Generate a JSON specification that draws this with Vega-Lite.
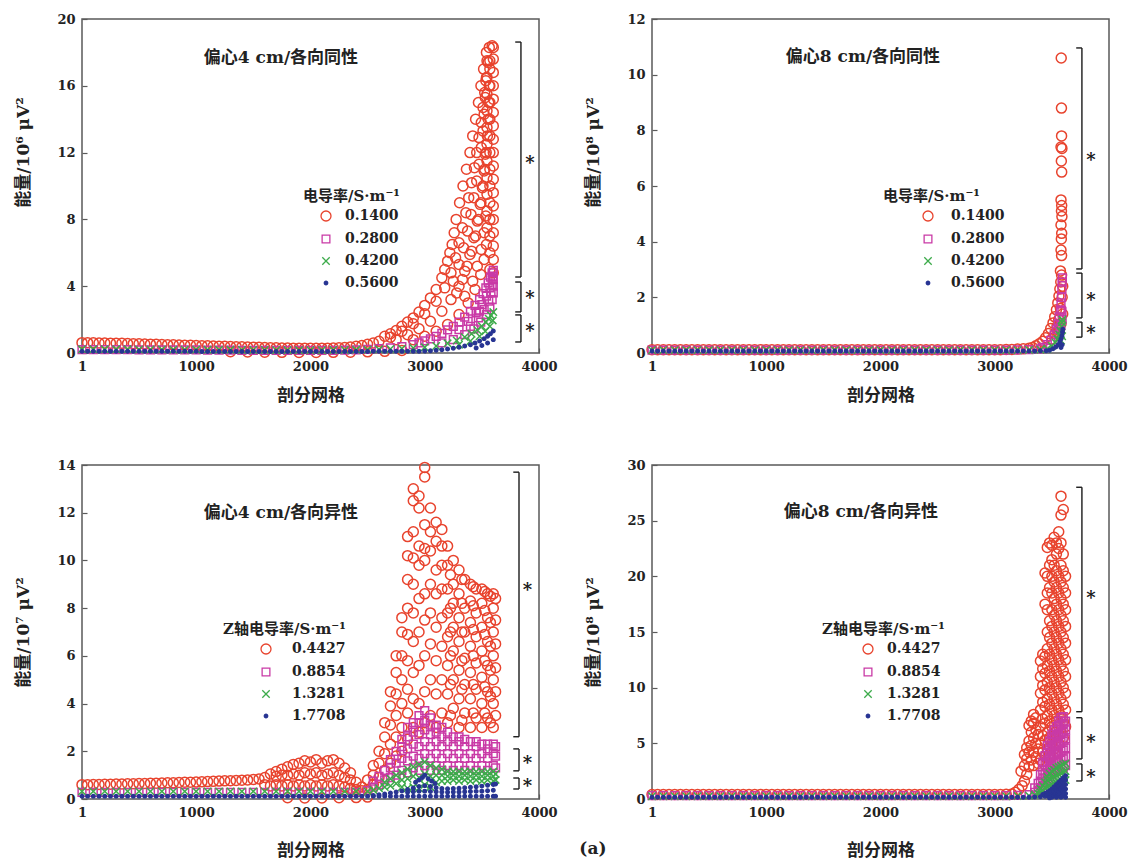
{
"$schema":"https://vega.github.io/schema/vega-lite/v6.json",
"padding":{"left":14,"top":12,"right":5,"bottom":5},
"background":"white",
"config":{
"view":{"stroke":"#5a5a5a","strokeWidth":1.5},
"axis":{"domain":false,"grid":false,"tickColor":"#5a5a5a","tickSize":-5,"tickWidth":1.2,"labelPadding":12,"labelFont":"DejaVu Serif","labelFontSize":13,"labelFontWeight":"bold","labelColor":"#222","labelFlush":false,"labelOverlap":false,"titleFont":"DejaVu Serif, Noto Sans CJK SC","titleFontSize":17,"titleFontWeight":"bold","titleColor":"#222"},
"legend":{"titleFont":"DejaVu Serif, Noto Sans CJK SC","titleFontSize":15,"titleFontWeight":"bold","titleColor":"#222","labelFont":"DejaVu Serif","labelFontSize":14,"labelFontWeight":"bold","labelColor":"#222","rowPadding":8,"titlePadding":5,"symbolStrokeWidth":1.3,"padding":0}
},
"datasets":{
"a":[
{"s":0,"x":1,"y":0.62},{"s":0,"x":50,"y":0.62},{"s":0,"x":100,"y":0.61},{"s":0,"x":150,"y":0.6},{"s":0,"x":200,"y":0.6},{"s":0,"x":250,"y":0.59},{"s":0,"x":300,"y":0.58},{"s":0,"x":350,"y":0.58},{"s":0,"x":400,"y":0.57},{"s":0,"x":450,"y":0.56},{"s":0,"x":500,"y":0.55},{"s":0,"x":550,"y":0.54},{"s":0,"x":600,"y":0.53},{"s":0,"x":650,"y":0.52},{"s":0,"x":700,"y":0.51},{"s":0,"x":750,"y":0.5},{"s":0,"x":800,"y":0.49},{"s":0,"x":850,"y":0.48},{"s":0,"x":900,"y":0.47},{"s":0,"x":950,"y":0.46},{"s":0,"x":1000,"y":0.45},{"s":0,"x":1050,"y":0.44},{"s":0,"x":1100,"y":0.43},{"s":0,"x":1150,"y":0.42},{"s":0,"x":1200,"y":0.41},{"s":0,"x":1250,"y":0.4},{"s":0,"x":1300,"y":0.39},{"s":0,"x":1350,"y":0.38},{"s":0,"x":1400,"y":0.37},{"s":0,"x":1450,"y":0.36},{"s":0,"x":1500,"y":0.35},{"s":0,"x":1550,"y":0.34},{"s":0,"x":1600,"y":0.33},{"s":0,"x":1650,"y":0.32},{"s":0,"x":1700,"y":0.31},{"s":0,"x":1750,"y":0.3},{"s":0,"x":1800,"y":0.3},{"s":0,"x":1850,"y":0.29},{"s":0,"x":1900,"y":0.29},{"s":0,"x":1950,"y":0.28},{"s":0,"x":2000,"y":0.28},{"s":0,"x":2050,"y":0.28},{"s":0,"x":2100,"y":0.29},{"s":0,"x":2150,"y":0.29},{"s":0,"x":2200,"y":0.3},{"s":0,"x":2250,"y":0.31},{"s":0,"x":2300,"y":0.33},{"s":0,"x":2350,"y":0.36},{"s":0,"x":2400,"y":0.4},{"s":0,"x":2450,"y":0.45},{"s":0,"x":2500,"y":0.52},{"s":0,"x":2550,"y":0.6},{"s":0,"x":2600,"y":0.7},
{"s":0,"x":1300,"y":0.08},{"s":0,"x":1450,"y":0.06},{"s":0,"x":1600,"y":0.05},{"s":0,"x":1750,"y":0.04},{"s":0,"x":1900,"y":0.03},{"s":0,"x":2050,"y":0.03},{"s":0,"x":2200,"y":0.04},{"s":0,"x":2350,"y":0.05},{"s":0,"x":2500,"y":0.07},{"s":0,"x":2650,"y":0.1},{"s":0,"x":2800,"y":0.15},
{"s":0,"x":2650,"y":1.0},{"s":0,"x":2700,"y":1.15},{"s":0,"x":2750,"y":1.35},{"s":0,"x":2800,"y":1.6},{"s":0,"x":2850,"y":1.85},{"s":0,"x":2900,"y":2.1},{"s":0,"x":2950,"y":2.45},{"s":0,"x":3000,"y":2.85},{"s":0,"x":3050,"y":3.3},{"s":0,"x":3100,"y":3.8},{"s":0,"x":3150,"y":4.5},{"s":0,"x":3175,"y":5.0},{"s":0,"x":3200,"y":5.5},{"s":0,"x":3220,"y":6.0},{"s":0,"x":3240,"y":6.5},{"s":0,"x":3258,"y":7.2},{"s":0,"x":3275,"y":8.0},{"s":0,"x":3305,"y":9.0},{"s":0,"x":3335,"y":10.0},{"s":0,"x":3365,"y":11.0},{"s":0,"x":3396,"y":12.0},{"s":0,"x":3420,"y":13.0},{"s":0,"x":3445,"y":14.0},{"s":0,"x":3470,"y":15.0},{"s":0,"x":3492,"y":16.0},{"s":0,"x":3515,"y":17.0},{"s":0,"x":3540,"y":18.0},{"s":0,"x":3565,"y":18.3},{"s":0,"x":3590,"y":18.4},
{"s":0,"x":2700,"y":0.95},{"s":0,"x":2800,"y":1.3},{"s":0,"x":2900,"y":1.75},{"s":0,"x":3000,"y":2.35},{"s":0,"x":3100,"y":3.1},{"s":0,"x":3175,"y":3.9},{"s":0,"x":3230,"y":4.8},{"s":0,"x":3270,"y":5.7},{"s":0,"x":3300,"y":6.6},{"s":0,"x":3330,"y":7.5},{"s":0,"x":3360,"y":8.4},{"s":0,"x":3385,"y":9.3},{"s":0,"x":3410,"y":10.2},{"s":0,"x":3435,"y":11.1},{"s":0,"x":3455,"y":12.0},{"s":0,"x":3475,"y":12.9},{"s":0,"x":3495,"y":13.8},{"s":0,"x":3510,"y":14.7},{"s":0,"x":3525,"y":15.6},{"s":0,"x":3540,"y":16.5},{"s":0,"x":3555,"y":17.4},
{"s":0,"x":3250,"y":4.3},{"s":0,"x":3300,"y":5.3},{"s":0,"x":3340,"y":6.3},{"s":0,"x":3375,"y":7.3},{"s":0,"x":3405,"y":8.3},{"s":0,"x":3430,"y":9.3},{"s":0,"x":3455,"y":10.3},{"s":0,"x":3475,"y":11.3},{"s":0,"x":3495,"y":12.3},{"s":0,"x":3510,"y":13.3},{"s":0,"x":3520,"y":14.3},{"s":0,"x":3530,"y":15.3},{"s":0,"x":3535,"y":16.3},
{"s":0,"x":3280,"y":3.6},{"s":0,"x":3330,"y":4.4},{"s":0,"x":3370,"y":5.2},{"s":0,"x":3410,"y":6.1},{"s":0,"x":3445,"y":7.0},{"s":0,"x":3470,"y":8.0},{"s":0,"x":3492,"y":9.0},{"s":0,"x":3510,"y":10.0},{"s":0,"x":3525,"y":11.0},{"s":0,"x":3538,"y":12.0},{"s":0,"x":3548,"y":13.0},{"s":0,"x":3555,"y":14.0},{"s":0,"x":3560,"y":15.0},{"s":0,"x":3565,"y":16.0},{"s":0,"x":3570,"y":17.5},
{"s":0,"x":2750,"y":0.8},{"s":0,"x":2850,"y":1.1},{"s":0,"x":2950,"y":1.45},{"s":0,"x":3050,"y":1.9},{"s":0,"x":3150,"y":2.5},{"s":0,"x":3230,"y":3.2},{"s":0,"x":3300,"y":4.0},{"s":0,"x":3350,"y":4.9},{"s":0,"x":3395,"y":5.9},{"s":0,"x":3430,"y":6.9},{"s":0,"x":3460,"y":7.9},{"s":0,"x":3485,"y":8.9},{"s":0,"x":3505,"y":9.9},{"s":0,"x":3520,"y":10.9},{"s":0,"x":3530,"y":11.9},
{"s":0,"x":3350,"y":3.4},{"s":0,"x":3420,"y":4.3},{"s":0,"x":3460,"y":5.2},{"s":0,"x":3495,"y":6.2},{"s":0,"x":3520,"y":7.2},{"s":0,"x":3535,"y":8.2},
{"s":0,"x":2900,"y":0.8},{"s":0,"x":3000,"y":1.0},{"s":0,"x":3100,"y":1.3},{"s":0,"x":3200,"y":1.7},{"s":0,"x":3300,"y":2.3},{"s":0,"x":3380,"y":3.0},{"s":0,"x":3440,"y":3.8},{"s":0,"x":3490,"y":4.7},{"s":0,"x":3520,"y":5.6},{"s":0,"x":3540,"y":6.5},
{"s":0,"x":3545,"y":7.5},{"s":0,"x":3545,"y":8.5},{"s":0,"x":3545,"y":9.5},{"s":0,"x":3545,"y":10.5},{"s":0,"x":3545,"y":11.5},{"s":0,"x":3545,"y":12.5},{"s":0,"x":3545,"y":13.5},{"s":0,"x":3545,"y":14.5},{"s":0,"x":3545,"y":15.5},{"s":0,"x":3545,"y":16.5},{"s":0,"x":3545,"y":17.5},
{"s":0,"x":3570,"y":5.0},{"s":0,"x":3570,"y":6.0},{"s":0,"x":3570,"y":7.0},{"s":0,"x":3570,"y":8.0},{"s":0,"x":3570,"y":9.0},{"s":0,"x":3570,"y":10.0},{"s":0,"x":3570,"y":11.0},{"s":0,"x":3570,"y":12.0},{"s":0,"x":3570,"y":13.0},{"s":0,"x":3570,"y":14.0},{"s":0,"x":3570,"y":15.0},{"s":0,"x":3570,"y":16.0},{"s":0,"x":3570,"y":17.0},
{"s":0,"x":3600,"y":4.8},{"s":0,"x":3600,"y":5.6},{"s":0,"x":3600,"y":6.4},{"s":0,"x":3600,"y":7.2},{"s":0,"x":3600,"y":8.0},{"s":0,"x":3600,"y":8.8},{"s":0,"x":3600,"y":9.6},{"s":0,"x":3600,"y":10.4},{"s":0,"x":3600,"y":11.2},{"s":0,"x":3600,"y":12.0},{"s":0,"x":3600,"y":12.8},{"s":0,"x":3600,"y":13.6},{"s":0,"x":3600,"y":14.4},{"s":0,"x":3600,"y":15.2},{"s":0,"x":3600,"y":16.0},{"s":0,"x":3600,"y":16.8},{"s":0,"x":3600,"y":17.6},{"s":0,"x":3600,"y":18.3},
{"s":1,"x":1,"y":0.2},{"s":1,"x":100,"y":0.2},{"s":1,"x":200,"y":0.2},{"s":1,"x":300,"y":0.2},{"s":1,"x":400,"y":0.2},{"s":1,"x":500,"y":0.19},{"s":1,"x":600,"y":0.19},{"s":1,"x":700,"y":0.19},{"s":1,"x":800,"y":0.18},{"s":1,"x":900,"y":0.18},{"s":1,"x":1000,"y":0.18},{"s":1,"x":1100,"y":0.17},{"s":1,"x":1200,"y":0.17},{"s":1,"x":1300,"y":0.17},{"s":1,"x":1400,"y":0.16},{"s":1,"x":1500,"y":0.16},{"s":1,"x":1600,"y":0.16},{"s":1,"x":1700,"y":0.15},{"s":1,"x":1800,"y":0.15},{"s":1,"x":1900,"y":0.15},{"s":1,"x":2000,"y":0.15},{"s":1,"x":2100,"y":0.15},{"s":1,"x":2200,"y":0.16},{"s":1,"x":2300,"y":0.17},{"s":1,"x":2400,"y":0.19},{"s":1,"x":2500,"y":0.22},{"s":1,"x":2600,"y":0.26},{"s":1,"x":2700,"y":0.31},{"s":1,"x":2800,"y":0.38},
{"s":1,"x":2900,"y":0.5},{"s":1,"x":2950,"y":0.6},{"s":1,"x":3000,"y":0.72},{"s":1,"x":3050,"y":0.85},{"s":1,"x":3100,"y":1.0},{"s":1,"x":3150,"y":1.18},{"s":1,"x":3200,"y":1.38},{"s":1,"x":3250,"y":1.6},{"s":1,"x":3300,"y":1.85},{"s":1,"x":3350,"y":2.15},{"s":1,"x":3400,"y":2.5},{"s":1,"x":3440,"y":2.85},{"s":1,"x":3480,"y":3.2},{"s":1,"x":3510,"y":3.55},{"s":1,"x":3535,"y":3.9},{"s":1,"x":3555,"y":4.2},{"s":1,"x":3575,"y":4.55},{"s":1,"x":3590,"y":4.8},{"s":1,"x":3600,"y":4.95},
{"s":1,"x":3150,"y":0.6},{"s":1,"x":3250,"y":0.8},{"s":1,"x":3350,"y":1.1},{"s":1,"x":3430,"y":1.45},{"s":1,"x":3490,"y":1.85},{"s":1,"x":3540,"y":2.3},{"s":1,"x":3570,"y":2.75},{"s":1,"x":3590,"y":3.2},{"s":1,"x":3600,"y":3.6},{"s":1,"x":3600,"y":4.0},{"s":1,"x":3600,"y":4.4},
{"s":1,"x":3400,"y":1.6},{"s":1,"x":3470,"y":2.1},{"s":1,"x":3520,"y":2.6},{"s":1,"x":3560,"y":3.1},{"s":1,"x":3580,"y":3.6},{"s":1,"x":3590,"y":4.1},{"s":1,"x":3450,"y":2.4},{"s":1,"x":3500,"y":2.9},{"s":1,"x":3540,"y":3.4},{"s":1,"x":3570,"y":3.9},{"s":1,"x":3595,"y":4.6},{"s":1,"x":3300,"y":1.4},{"s":1,"x":3380,"y":1.9},{"s":1,"x":3480,"y":2.5},
{"s":2,"x":1,"y":0.22},{"s":2,"x":100,"y":0.22},{"s":2,"x":200,"y":0.22},{"s":2,"x":300,"y":0.22},{"s":2,"x":400,"y":0.22},{"s":2,"x":500,"y":0.21},{"s":2,"x":600,"y":0.21},{"s":2,"x":700,"y":0.21},{"s":2,"x":800,"y":0.2},{"s":2,"x":900,"y":0.2},{"s":2,"x":1000,"y":0.2},{"s":2,"x":1100,"y":0.19},{"s":2,"x":1200,"y":0.19},{"s":2,"x":1300,"y":0.19},{"s":2,"x":1400,"y":0.18},{"s":2,"x":1500,"y":0.18},{"s":2,"x":1600,"y":0.18},{"s":2,"x":1700,"y":0.17},{"s":2,"x":1800,"y":0.17},{"s":2,"x":1900,"y":0.17},{"s":2,"x":2000,"y":0.17},{"s":2,"x":2100,"y":0.17},{"s":2,"x":2200,"y":0.18},{"s":2,"x":2300,"y":0.18},{"s":2,"x":2400,"y":0.19},{"s":2,"x":2500,"y":0.2},{"s":2,"x":2600,"y":0.22},{"s":2,"x":2700,"y":0.24},{"s":2,"x":2800,"y":0.26},{"s":2,"x":2900,"y":0.3},
{"s":2,"x":3000,"y":0.34},{"s":2,"x":3100,"y":0.42},{"s":2,"x":3200,"y":0.58},{"s":2,"x":3280,"y":0.75},{"s":2,"x":3350,"y":0.95},{"s":2,"x":3410,"y":1.15},{"s":2,"x":3460,"y":1.38},{"s":2,"x":3500,"y":1.6},{"s":2,"x":3535,"y":1.85},{"s":2,"x":3560,"y":2.05},{"s":2,"x":3580,"y":2.25},{"s":2,"x":3600,"y":2.45},
{"s":2,"x":3300,"y":0.5},{"s":2,"x":3400,"y":0.72},{"s":2,"x":3480,"y":1.0},{"s":2,"x":3530,"y":1.3},{"s":2,"x":3570,"y":1.6},{"s":2,"x":3595,"y":1.95},
{"s":3,"x":1,"y":0.11},{"s":3,"x":50,"y":0.11},{"s":3,"x":100,"y":0.11},{"s":3,"x":150,"y":0.11},{"s":3,"x":200,"y":0.11},{"s":3,"x":250,"y":0.11},{"s":3,"x":300,"y":0.11},{"s":3,"x":350,"y":0.11},{"s":3,"x":400,"y":0.11},{"s":3,"x":450,"y":0.11},{"s":3,"x":500,"y":0.11},{"s":3,"x":550,"y":0.11},{"s":3,"x":600,"y":0.11},{"s":3,"x":650,"y":0.11},{"s":3,"x":700,"y":0.11},{"s":3,"x":750,"y":0.11},{"s":3,"x":800,"y":0.11},{"s":3,"x":850,"y":0.11},{"s":3,"x":900,"y":0.11},{"s":3,"x":950,"y":0.11},{"s":3,"x":1000,"y":0.1},{"s":3,"x":1050,"y":0.09},{"s":3,"x":1100,"y":0.09},{"s":3,"x":1150,"y":0.09},{"s":3,"x":1200,"y":0.09},{"s":3,"x":1250,"y":0.09},{"s":3,"x":1300,"y":0.09},{"s":3,"x":1350,"y":0.09},{"s":3,"x":1400,"y":0.09},{"s":3,"x":1450,"y":0.09},{"s":3,"x":1500,"y":0.09},{"s":3,"x":1550,"y":0.09},{"s":3,"x":1600,"y":0.09},{"s":3,"x":1650,"y":0.09},{"s":3,"x":1700,"y":0.09},{"s":3,"x":1750,"y":0.09},{"s":3,"x":1800,"y":0.09},{"s":3,"x":1850,"y":0.09},{"s":3,"x":1900,"y":0.09},{"s":3,"x":1950,"y":0.09},{"s":3,"x":2000,"y":0.09},{"s":3,"x":2050,"y":0.09},{"s":3,"x":2100,"y":0.09},{"s":3,"x":2150,"y":0.09},{"s":3,"x":2200,"y":0.09},{"s":3,"x":2250,"y":0.09},{"s":3,"x":2300,"y":0.09},{"s":3,"x":2350,"y":0.09},{"s":3,"x":2400,"y":0.09},{"s":3,"x":2450,"y":0.09},{"s":3,"x":2500,"y":0.09},{"s":3,"x":2550,"y":0.1},{"s":3,"x":2600,"y":0.1},{"s":3,"x":2650,"y":0.1},{"s":3,"x":2700,"y":0.1},{"s":3,"x":2750,"y":0.1},{"s":3,"x":2800,"y":0.1},{"s":3,"x":2850,"y":0.1},{"s":3,"x":2900,"y":0.1},{"s":3,"x":2950,"y":0.11},
{"s":3,"x":3000,"y":0.12},{"s":3,"x":3050,"y":0.14},{"s":3,"x":3100,"y":0.17},{"s":3,"x":3150,"y":0.2},{"s":3,"x":3200,"y":0.24},{"s":3,"x":3250,"y":0.29},{"s":3,"x":3300,"y":0.35},{"s":3,"x":3350,"y":0.42},{"s":3,"x":3400,"y":0.5},{"s":3,"x":3440,"y":0.6},{"s":3,"x":3480,"y":0.72},{"s":3,"x":3520,"y":0.86},{"s":3,"x":3550,"y":1.0},{"s":3,"x":3575,"y":1.15},{"s":3,"x":3600,"y":1.32},{"s":3,"x":3450,"y":0.3},{"s":3,"x":3500,"y":0.45},{"s":3,"x":3550,"y":0.6},{"s":3,"x":3600,"y":0.8}
],
"b":[
{"s":0,"x":1,"y":0.12},{"s":0,"x":50,"y":0.12},{"s":0,"x":100,"y":0.12},{"s":0,"x":150,"y":0.12},{"s":0,"x":200,"y":0.12},{"s":0,"x":250,"y":0.12},{"s":0,"x":300,"y":0.12},{"s":0,"x":350,"y":0.12},{"s":0,"x":400,"y":0.12},{"s":0,"x":450,"y":0.12},{"s":0,"x":500,"y":0.12},{"s":0,"x":550,"y":0.12},{"s":0,"x":600,"y":0.12},{"s":0,"x":650,"y":0.12},{"s":0,"x":700,"y":0.12},{"s":0,"x":750,"y":0.12},{"s":0,"x":800,"y":0.12},{"s":0,"x":850,"y":0.12},{"s":0,"x":900,"y":0.12},{"s":0,"x":950,"y":0.12},{"s":0,"x":1000,"y":0.12},{"s":0,"x":1050,"y":0.12},{"s":0,"x":1100,"y":0.12},{"s":0,"x":1150,"y":0.12},{"s":0,"x":1200,"y":0.12},{"s":0,"x":1250,"y":0.12},{"s":0,"x":1300,"y":0.12},{"s":0,"x":1350,"y":0.12},{"s":0,"x":1400,"y":0.12},{"s":0,"x":1450,"y":0.12},{"s":0,"x":1500,"y":0.12},{"s":0,"x":1550,"y":0.12},{"s":0,"x":1600,"y":0.12},{"s":0,"x":1650,"y":0.12},{"s":0,"x":1700,"y":0.12},{"s":0,"x":1750,"y":0.12},{"s":0,"x":1800,"y":0.12},{"s":0,"x":1850,"y":0.12},{"s":0,"x":1900,"y":0.12},{"s":0,"x":1950,"y":0.12},{"s":0,"x":2000,"y":0.12},{"s":0,"x":2050,"y":0.12},{"s":0,"x":2100,"y":0.12},{"s":0,"x":2150,"y":0.12},{"s":0,"x":2200,"y":0.12},{"s":0,"x":2250,"y":0.12},{"s":0,"x":2300,"y":0.12},{"s":0,"x":2350,"y":0.12},{"s":0,"x":2400,"y":0.12},{"s":0,"x":2450,"y":0.12},{"s":0,"x":2500,"y":0.12},{"s":0,"x":2550,"y":0.12},{"s":0,"x":2600,"y":0.12},{"s":0,"x":2650,"y":0.12},{"s":0,"x":2700,"y":0.12},{"s":0,"x":2750,"y":0.12},{"s":0,"x":2800,"y":0.12},{"s":0,"x":2850,"y":0.12},{"s":0,"x":2900,"y":0.12},{"s":0,"x":2950,"y":0.12},{"s":0,"x":3000,"y":0.12},{"s":0,"x":3050,"y":0.12},{"s":0,"x":3100,"y":0.13},{"s":0,"x":3150,"y":0.13},{"s":0,"x":3200,"y":0.14},{"s":0,"x":3250,"y":0.15},{"s":0,"x":3300,"y":0.17},
{"s":0,"x":3330,"y":0.2},{"s":0,"x":3360,"y":0.26},{"s":0,"x":3390,"y":0.33},{"s":0,"x":3420,"y":0.42},{"s":0,"x":3445,"y":0.55},{"s":0,"x":3470,"y":0.7},{"s":0,"x":3490,"y":0.88},{"s":0,"x":3510,"y":1.08},{"s":0,"x":3525,"y":1.3},{"s":0,"x":3540,"y":1.55},{"s":0,"x":3552,"y":1.8},{"s":0,"x":3562,"y":2.05},{"s":0,"x":3570,"y":2.3},{"s":0,"x":3578,"y":2.55},{"s":0,"x":3585,"y":2.8},{"s":0,"x":3575,"y":2.95},{"s":0,"x":3560,"y":1.2},{"s":0,"x":3575,"y":1.6},{"s":0,"x":3590,"y":2.0},{"s":0,"x":3595,"y":2.4},{"s":0,"x":3545,"y":0.95},{"s":0,"x":3580,"y":1.05},{"s":0,"x":3530,"y":0.7},{"s":0,"x":3565,"y":0.8},{"s":0,"x":3500,"y":0.5},{"s":0,"x":3595,"y":1.4},
{"s":0,"x":3585,"y":3.5},{"s":0,"x":3580,"y":3.7},{"s":0,"x":3583,"y":4.1},{"s":0,"x":3586,"y":4.3},{"s":0,"x":3580,"y":4.6},{"s":0,"x":3588,"y":4.9},{"s":0,"x":3584,"y":5.1},{"s":0,"x":3586,"y":5.3},{"s":0,"x":3580,"y":5.5},{"s":0,"x":3586,"y":6.5},{"s":0,"x":3583,"y":6.9},{"s":0,"x":3588,"y":7.35},{"s":0,"x":3580,"y":7.4},{"s":0,"x":3585,"y":7.8},{"s":0,"x":3584,"y":8.8},{"s":0,"x":3582,"y":10.6},
{"s":1,"x":1,"y":0.1},{"s":1,"x":100,"y":0.1},{"s":1,"x":200,"y":0.1},{"s":1,"x":300,"y":0.1},{"s":1,"x":400,"y":0.1},{"s":1,"x":500,"y":0.1},{"s":1,"x":600,"y":0.1},{"s":1,"x":700,"y":0.1},{"s":1,"x":800,"y":0.1},{"s":1,"x":900,"y":0.1},{"s":1,"x":1000,"y":0.1},{"s":1,"x":1100,"y":0.1},{"s":1,"x":1200,"y":0.1},{"s":1,"x":1300,"y":0.1},{"s":1,"x":1400,"y":0.1},{"s":1,"x":1500,"y":0.1},{"s":1,"x":1600,"y":0.1},{"s":1,"x":1700,"y":0.1},{"s":1,"x":1800,"y":0.1},{"s":1,"x":1900,"y":0.1},{"s":1,"x":2000,"y":0.1},{"s":1,"x":2100,"y":0.1},{"s":1,"x":2200,"y":0.1},{"s":1,"x":2300,"y":0.1},{"s":1,"x":2400,"y":0.1},{"s":1,"x":2500,"y":0.1},{"s":1,"x":2600,"y":0.1},{"s":1,"x":2700,"y":0.1},{"s":1,"x":2800,"y":0.1},{"s":1,"x":2900,"y":0.1},{"s":1,"x":3000,"y":0.1},{"s":1,"x":3100,"y":0.1},{"s":1,"x":3200,"y":0.11},{"s":1,"x":3300,"y":0.12},{"s":1,"x":3400,"y":0.15},
{"s":1,"x":3420,"y":0.2},{"s":1,"x":3460,"y":0.3},{"s":1,"x":3490,"y":0.45},{"s":1,"x":3520,"y":0.65},{"s":1,"x":3540,"y":0.85},{"s":1,"x":3555,"y":1.05},{"s":1,"x":3565,"y":1.3},{"s":1,"x":3575,"y":1.55},{"s":1,"x":3580,"y":1.8},{"s":1,"x":3585,"y":2.0},{"s":1,"x":3588,"y":2.3},{"s":1,"x":3590,"y":2.55},{"s":1,"x":3592,"y":2.7},{"s":1,"x":3590,"y":1.2},{"s":1,"x":3588,"y":1.5},{"s":1,"x":3570,"y":0.9},{"s":1,"x":3580,"y":1.0},
{"s":2,"x":1,"y":0.1},{"s":2,"x":100,"y":0.1},{"s":2,"x":200,"y":0.1},{"s":2,"x":300,"y":0.1},{"s":2,"x":400,"y":0.1},{"s":2,"x":500,"y":0.1},{"s":2,"x":600,"y":0.1},{"s":2,"x":700,"y":0.1},{"s":2,"x":800,"y":0.1},{"s":2,"x":900,"y":0.1},{"s":2,"x":1000,"y":0.1},{"s":2,"x":1100,"y":0.1},{"s":2,"x":1200,"y":0.1},{"s":2,"x":1300,"y":0.1},{"s":2,"x":1400,"y":0.1},{"s":2,"x":1500,"y":0.1},{"s":2,"x":1600,"y":0.1},{"s":2,"x":1700,"y":0.1},{"s":2,"x":1800,"y":0.1},{"s":2,"x":1900,"y":0.1},{"s":2,"x":2000,"y":0.1},{"s":2,"x":2100,"y":0.1},{"s":2,"x":2200,"y":0.1},{"s":2,"x":2300,"y":0.1},{"s":2,"x":2400,"y":0.1},{"s":2,"x":2500,"y":0.1},{"s":2,"x":2600,"y":0.1},{"s":2,"x":2700,"y":0.1},{"s":2,"x":2800,"y":0.1},{"s":2,"x":2900,"y":0.1},{"s":2,"x":3000,"y":0.1},{"s":2,"x":3100,"y":0.1},{"s":2,"x":3200,"y":0.1},{"s":2,"x":3300,"y":0.11},{"s":2,"x":3400,"y":0.12},
{"s":2,"x":3460,"y":0.15},{"s":2,"x":3500,"y":0.25},{"s":2,"x":3530,"y":0.38},{"s":2,"x":3550,"y":0.5},{"s":2,"x":3565,"y":0.65},{"s":2,"x":3575,"y":0.8},{"s":2,"x":3585,"y":0.95},{"s":2,"x":3590,"y":1.1},{"s":2,"x":3592,"y":1.2},{"s":2,"x":3590,"y":0.6},{"s":2,"x":3580,"y":0.45},
{"s":3,"x":1,"y":0.07},{"s":3,"x":50,"y":0.07},{"s":3,"x":100,"y":0.07},{"s":3,"x":150,"y":0.07},{"s":3,"x":200,"y":0.07},{"s":3,"x":250,"y":0.07},{"s":3,"x":300,"y":0.07},{"s":3,"x":350,"y":0.07},{"s":3,"x":400,"y":0.07},{"s":3,"x":450,"y":0.07},{"s":3,"x":500,"y":0.07},{"s":3,"x":550,"y":0.07},{"s":3,"x":600,"y":0.07},{"s":3,"x":650,"y":0.07},{"s":3,"x":700,"y":0.07},{"s":3,"x":750,"y":0.07},{"s":3,"x":800,"y":0.07},{"s":3,"x":850,"y":0.07},{"s":3,"x":900,"y":0.07},{"s":3,"x":950,"y":0.07},{"s":3,"x":1000,"y":0.07},{"s":3,"x":1050,"y":0.07},{"s":3,"x":1100,"y":0.07},{"s":3,"x":1150,"y":0.07},{"s":3,"x":1200,"y":0.07},{"s":3,"x":1250,"y":0.07},{"s":3,"x":1300,"y":0.07},{"s":3,"x":1350,"y":0.07},{"s":3,"x":1400,"y":0.07},{"s":3,"x":1450,"y":0.07},{"s":3,"x":1500,"y":0.07},{"s":3,"x":1550,"y":0.07},{"s":3,"x":1600,"y":0.07},{"s":3,"x":1650,"y":0.07},{"s":3,"x":1700,"y":0.07},{"s":3,"x":1750,"y":0.07},{"s":3,"x":1800,"y":0.07},{"s":3,"x":1850,"y":0.07},{"s":3,"x":1900,"y":0.07},{"s":3,"x":1950,"y":0.07},{"s":3,"x":2000,"y":0.07},{"s":3,"x":2050,"y":0.07},{"s":3,"x":2100,"y":0.07},{"s":3,"x":2150,"y":0.07},{"s":3,"x":2200,"y":0.07},{"s":3,"x":2250,"y":0.07},{"s":3,"x":2300,"y":0.07},{"s":3,"x":2350,"y":0.07},{"s":3,"x":2400,"y":0.07},{"s":3,"x":2450,"y":0.07},{"s":3,"x":2500,"y":0.07},{"s":3,"x":2550,"y":0.07},{"s":3,"x":2600,"y":0.07},{"s":3,"x":2650,"y":0.07},{"s":3,"x":2700,"y":0.07},{"s":3,"x":2750,"y":0.07},{"s":3,"x":2800,"y":0.07},{"s":3,"x":2850,"y":0.07},{"s":3,"x":2900,"y":0.07},{"s":3,"x":2950,"y":0.07},{"s":3,"x":3000,"y":0.07},{"s":3,"x":3050,"y":0.07},{"s":3,"x":3100,"y":0.07},{"s":3,"x":3150,"y":0.07},{"s":3,"x":3200,"y":0.07},{"s":3,"x":3250,"y":0.07},{"s":3,"x":3300,"y":0.07},{"s":3,"x":3350,"y":0.07},{"s":3,"x":3400,"y":0.08},{"s":3,"x":3450,"y":0.08},
{"s":3,"x":3480,"y":0.1},{"s":3,"x":3510,"y":0.15},{"s":3,"x":3535,"y":0.22},{"s":3,"x":3555,"y":0.3},{"s":3,"x":3570,"y":0.4},{"s":3,"x":3580,"y":0.5},{"s":3,"x":3588,"y":0.62},{"s":3,"x":3593,"y":0.75},{"s":3,"x":3596,"y":0.85},{"s":3,"x":3590,"y":0.3},{"s":3,"x":3580,"y":0.2}
],
"c":[
{"s":0,"x":1,"y":0.6},{"s":0,"x":50,"y":0.6},{"s":0,"x":100,"y":0.61},{"s":0,"x":150,"y":0.61},{"s":0,"x":200,"y":0.62},{"s":0,"x":250,"y":0.62},{"s":0,"x":300,"y":0.63},{"s":0,"x":350,"y":0.63},{"s":0,"x":400,"y":0.64},{"s":0,"x":450,"y":0.64},{"s":0,"x":500,"y":0.65},{"s":0,"x":550,"y":0.65},{"s":0,"x":600,"y":0.66},{"s":0,"x":650,"y":0.66},{"s":0,"x":700,"y":0.67},{"s":0,"x":750,"y":0.68},{"s":0,"x":800,"y":0.68},{"s":0,"x":850,"y":0.69},{"s":0,"x":900,"y":0.7},{"s":0,"x":950,"y":0.7},{"s":0,"x":1000,"y":0.71},{"s":0,"x":1050,"y":0.72},{"s":0,"x":1100,"y":0.73},{"s":0,"x":1150,"y":0.74},{"s":0,"x":1200,"y":0.75},{"s":0,"x":1250,"y":0.76},{"s":0,"x":1300,"y":0.77},{"s":0,"x":1350,"y":0.78},{"s":0,"x":1400,"y":0.79},{"s":0,"x":1450,"y":0.8},{"s":0,"x":1500,"y":0.82},{"s":0,"x":1550,"y":0.84},
{"s":0,"x":1600,"y":0.6},{"s":0,"x":1600,"y":0.9},{"s":0,"x":1650,"y":0.55},{"s":0,"x":1650,"y":1.05},{"s":0,"x":1700,"y":0.6},{"s":0,"x":1700,"y":0.95},{"s":0,"x":1700,"y":1.15},{"s":0,"x":1750,"y":0.55},{"s":0,"x":1750,"y":1.0},{"s":0,"x":1750,"y":1.25},{"s":0,"x":1800,"y":0.6},{"s":0,"x":1800,"y":1.0},{"s":0,"x":1800,"y":1.35},{"s":0,"x":1850,"y":0.55},{"s":0,"x":1850,"y":1.05},{"s":0,"x":1850,"y":1.45},{"s":0,"x":1900,"y":0.6},{"s":0,"x":1900,"y":1.0},{"s":0,"x":1900,"y":1.5},{"s":0,"x":1950,"y":0.55},{"s":0,"x":1950,"y":1.1},{"s":0,"x":1950,"y":1.6},{"s":0,"x":2000,"y":0.6},{"s":0,"x":2000,"y":1.05},{"s":0,"x":2000,"y":1.55},{"s":0,"x":2050,"y":0.55},{"s":0,"x":2050,"y":1.1},{"s":0,"x":2050,"y":1.65},{"s":0,"x":2100,"y":0.6},{"s":0,"x":2100,"y":1.0},{"s":0,"x":2100,"y":1.5},{"s":0,"x":2150,"y":0.55},{"s":0,"x":2150,"y":1.05},{"s":0,"x":2150,"y":1.6},{"s":0,"x":2200,"y":0.6},{"s":0,"x":2200,"y":1.1},{"s":0,"x":2200,"y":1.65},{"s":0,"x":2250,"y":0.55},{"s":0,"x":2250,"y":1.0},{"s":0,"x":2250,"y":1.5},{"s":0,"x":2300,"y":0.5},{"s":0,"x":2300,"y":0.9},{"s":0,"x":2300,"y":1.3},{"s":0,"x":2350,"y":0.45},{"s":0,"x":2350,"y":0.8},{"s":0,"x":2350,"y":1.1},{"s":0,"x":2400,"y":0.4},{"s":0,"x":2400,"y":0.7},{"s":0,"x":2450,"y":0.35},{"s":0,"x":2450,"y":0.5},
{"s":0,"x":1800,"y":0.05},{"s":0,"x":1950,"y":0.04},{"s":0,"x":2100,"y":0.04},{"s":0,"x":2250,"y":0.05},{"s":0,"x":2400,"y":0.06},{"s":0,"x":2500,"y":0.08},
{"s":0,"x":2500,"y":0.4},{"s":0,"x":2500,"y":0.8},{"s":0,"x":2550,"y":0.6},{"s":0,"x":2550,"y":1.0},{"s":0,"x":2550,"y":1.4},{"s":0,"x":2600,"y":0.9},{"s":0,"x":2600,"y":1.5},{"s":0,"x":2600,"y":2.0},{"s":0,"x":2650,"y":1.2},{"s":0,"x":2650,"y":1.9},{"s":0,"x":2650,"y":2.6},{"s":0,"x":2650,"y":3.2},{"s":0,"x":2700,"y":1.5},{"s":0,"x":2700,"y":2.3},{"s":0,"x":2700,"y":3.1},{"s":0,"x":2700,"y":3.9},{"s":0,"x":2700,"y":4.5},{"s":0,"x":2750,"y":1.8},{"s":0,"x":2750,"y":2.6},{"s":0,"x":2750,"y":3.5},{"s":0,"x":2750,"y":4.4},{"s":0,"x":2750,"y":5.3},{"s":0,"x":2750,"y":6.0},{"s":0,"x":2800,"y":2.0},{"s":0,"x":2800,"y":3.0},{"s":0,"x":2800,"y":4.0},{"s":0,"x":2800,"y":5.0},{"s":0,"x":2800,"y":6.0},{"s":0,"x":2800,"y":7.0},{"s":0,"x":2800,"y":7.6},
{"s":0,"x":2850,"y":2.5},{"s":0,"x":2850,"y":3.6},{"s":0,"x":2850,"y":4.6},{"s":0,"x":2850,"y":5.8},{"s":0,"x":2850,"y":6.9},{"s":0,"x":2850,"y":8.0},{"s":0,"x":2850,"y":9.2},{"s":0,"x":2850,"y":10.2},{"s":0,"x":2850,"y":11.0},
{"s":0,"x":2900,"y":3.0},{"s":0,"x":2900,"y":4.2},{"s":0,"x":2900,"y":5.3},{"s":0,"x":2900,"y":6.6},{"s":0,"x":2900,"y":7.8},{"s":0,"x":2900,"y":9.0},{"s":0,"x":2900,"y":10.1},{"s":0,"x":2900,"y":11.2},{"s":0,"x":2900,"y":12.5},{"s":0,"x":2900,"y":13.0},
{"s":0,"x":2950,"y":2.8},{"s":0,"x":2950,"y":4.0},{"s":0,"x":2950,"y":5.6},{"s":0,"x":2950,"y":7.0},{"s":0,"x":2950,"y":8.4},{"s":0,"x":2950,"y":9.8},{"s":0,"x":2950,"y":10.6},{"s":0,"x":2950,"y":12.2},{"s":0,"x":2950,"y":12.7},
{"s":0,"x":3000,"y":3.2},{"s":0,"x":3000,"y":4.5},{"s":0,"x":3000,"y":6.0},{"s":0,"x":3000,"y":7.5},{"s":0,"x":3000,"y":8.6},{"s":0,"x":3000,"y":10.0},{"s":0,"x":3000,"y":10.5},{"s":0,"x":3000,"y":11.5},{"s":0,"x":3000,"y":13.5},{"s":0,"x":3000,"y":13.9},
{"s":0,"x":3050,"y":3.5},{"s":0,"x":3050,"y":5.0},{"s":0,"x":3050,"y":6.5},{"s":0,"x":3050,"y":7.8},{"s":0,"x":3050,"y":9.0},{"s":0,"x":3050,"y":10.4},{"s":0,"x":3050,"y":11.2},{"s":0,"x":3050,"y":12.2},
{"s":0,"x":3100,"y":3.0},{"s":0,"x":3100,"y":4.4},{"s":0,"x":3100,"y":5.8},{"s":0,"x":3100,"y":7.2},{"s":0,"x":3100,"y":8.6},{"s":0,"x":3100,"y":9.6},{"s":0,"x":3100,"y":10.8},{"s":0,"x":3100,"y":11.6},
{"s":0,"x":3150,"y":3.6},{"s":0,"x":3150,"y":5.0},{"s":0,"x":3150,"y":6.4},{"s":0,"x":3150,"y":7.6},{"s":0,"x":3150,"y":8.8},{"s":0,"x":3150,"y":9.8},{"s":0,"x":3150,"y":10.6},{"s":0,"x":3150,"y":11.3},
{"s":0,"x":3200,"y":3.2},{"s":0,"x":3200,"y":4.4},{"s":0,"x":3200,"y":5.6},{"s":0,"x":3200,"y":6.8},{"s":0,"x":3200,"y":7.8},{"s":0,"x":3200,"y":8.8},{"s":0,"x":3200,"y":9.8},{"s":0,"x":3200,"y":10.6},
{"s":0,"x":3225,"y":3.5},{"s":0,"x":3225,"y":4.8},{"s":0,"x":3225,"y":6.0},{"s":0,"x":3225,"y":7.0},{"s":0,"x":3225,"y":8.0},{"s":0,"x":3225,"y":9.4},
{"s":0,"x":3250,"y":3.8},{"s":0,"x":3250,"y":5.0},{"s":0,"x":3250,"y":6.2},{"s":0,"x":3250,"y":7.2},{"s":0,"x":3250,"y":8.2},{"s":0,"x":3250,"y":9.0},{"s":0,"x":3250,"y":10.0},
{"s":0,"x":3300,"y":3.0},{"s":0,"x":3300,"y":4.2},{"s":0,"x":3300,"y":5.4},{"s":0,"x":3300,"y":6.6},{"s":0,"x":3300,"y":7.6},{"s":0,"x":3300,"y":8.6},{"s":0,"x":3300,"y":9.6},
{"s":0,"x":3325,"y":3.3},{"s":0,"x":3325,"y":4.6},{"s":0,"x":3325,"y":5.8},{"s":0,"x":3325,"y":7.0},{"s":0,"x":3325,"y":8.2},{"s":0,"x":3325,"y":9.2},
{"s":0,"x":3350,"y":3.6},{"s":0,"x":3350,"y":4.8},{"s":0,"x":3350,"y":5.9},{"s":0,"x":3350,"y":7.0},{"s":0,"x":3350,"y":8.0},{"s":0,"x":3350,"y":9.2},
{"s":0,"x":3400,"y":3.0},{"s":0,"x":3400,"y":4.2},{"s":0,"x":3400,"y":5.3},{"s":0,"x":3400,"y":6.4},{"s":0,"x":3400,"y":7.4},{"s":0,"x":3400,"y":8.3},{"s":0,"x":3400,"y":9.0},
{"s":0,"x":3425,"y":3.6},{"s":0,"x":3425,"y":4.8},{"s":0,"x":3425,"y":6.0},{"s":0,"x":3425,"y":7.1},{"s":0,"x":3425,"y":8.1},{"s":0,"x":3425,"y":8.9},
{"s":0,"x":3450,"y":3.4},{"s":0,"x":3450,"y":4.6},{"s":0,"x":3450,"y":5.7},{"s":0,"x":3450,"y":6.8},{"s":0,"x":3450,"y":7.8},{"s":0,"x":3450,"y":8.8},
{"s":0,"x":3500,"y":3.0},{"s":0,"x":3500,"y":4.0},{"s":0,"x":3500,"y":5.1},{"s":0,"x":3500,"y":6.2},{"s":0,"x":3500,"y":7.2},{"s":0,"x":3500,"y":8.2},{"s":0,"x":3500,"y":8.8},
{"s":0,"x":3525,"y":3.6},{"s":0,"x":3525,"y":4.7},{"s":0,"x":3525,"y":5.8},{"s":0,"x":3525,"y":6.9},{"s":0,"x":3525,"y":7.9},{"s":0,"x":3525,"y":8.7},
{"s":0,"x":3550,"y":3.4},{"s":0,"x":3550,"y":4.5},{"s":0,"x":3550,"y":5.6},{"s":0,"x":3550,"y":6.6},{"s":0,"x":3550,"y":7.6},{"s":0,"x":3550,"y":8.6},
{"s":0,"x":3575,"y":3.2},{"s":0,"x":3575,"y":4.3},{"s":0,"x":3575,"y":5.4},{"s":0,"x":3575,"y":6.4},{"s":0,"x":3575,"y":7.4},{"s":0,"x":3575,"y":8.5},
{"s":0,"x":3600,"y":3.0},{"s":0,"x":3600,"y":4.0},{"s":0,"x":3600,"y":5.0},{"s":0,"x":3600,"y":6.0},{"s":0,"x":3600,"y":7.0},{"s":0,"x":3600,"y":8.0},{"s":0,"x":3600,"y":8.6},
{"s":0,"x":3620,"y":3.5},{"s":0,"x":3620,"y":4.5},{"s":0,"x":3620,"y":5.5},{"s":0,"x":3620,"y":6.5},{"s":0,"x":3620,"y":7.5},{"s":0,"x":3620,"y":8.4},
{"s":1,"x":1,"y":0.28},{"s":1,"x":100,"y":0.28},{"s":1,"x":200,"y":0.28},{"s":1,"x":300,"y":0.28},{"s":1,"x":400,"y":0.28},{"s":1,"x":500,"y":0.28},{"s":1,"x":600,"y":0.28},{"s":1,"x":700,"y":0.28},{"s":1,"x":800,"y":0.28},{"s":1,"x":900,"y":0.28},{"s":1,"x":1000,"y":0.28},{"s":1,"x":1100,"y":0.28},{"s":1,"x":1200,"y":0.28},{"s":1,"x":1300,"y":0.28},{"s":1,"x":1400,"y":0.28},{"s":1,"x":1500,"y":0.28},{"s":1,"x":1600,"y":0.28},{"s":1,"x":1700,"y":0.28},{"s":1,"x":1800,"y":0.28},{"s":1,"x":1900,"y":0.28},{"s":1,"x":2000,"y":0.28},{"s":1,"x":2100,"y":0.28},{"s":1,"x":2200,"y":0.28},{"s":1,"x":2300,"y":0.28},{"s":1,"x":2400,"y":0.28},
{"s":1,"x":2500,"y":0.35},{"s":1,"x":2550,"y":0.5},{"s":1,"x":2550,"y":0.75},{"s":1,"x":2600,"y":0.6},{"s":1,"x":2600,"y":0.95},{"s":1,"x":2650,"y":0.8},{"s":1,"x":2650,"y":1.2},{"s":1,"x":2700,"y":0.9},{"s":1,"x":2700,"y":1.3},{"s":1,"x":2700,"y":1.65},{"s":1,"x":2750,"y":1.0},{"s":1,"x":2750,"y":1.5},{"s":1,"x":2750,"y":2.0},{"s":1,"x":2800,"y":1.2},{"s":1,"x":2800,"y":1.7},{"s":1,"x":2800,"y":2.2},{"s":1,"x":2800,"y":2.5},{"s":1,"x":2850,"y":1.1},{"s":1,"x":2850,"y":1.6},{"s":1,"x":2850,"y":2.1},{"s":1,"x":2850,"y":2.6},{"s":1,"x":2850,"y":3.0},{"s":1,"x":2900,"y":1.3},{"s":1,"x":2900,"y":1.8},{"s":1,"x":2900,"y":2.3},{"s":1,"x":2900,"y":2.8},{"s":1,"x":2900,"y":3.2},{"s":1,"x":2950,"y":1.2},{"s":1,"x":2950,"y":1.7},{"s":1,"x":2950,"y":2.2},{"s":1,"x":2950,"y":2.7},{"s":1,"x":2950,"y":3.2},{"s":1,"x":2950,"y":3.5},{"s":1,"x":3000,"y":1.4},{"s":1,"x":3000,"y":1.9},{"s":1,"x":3000,"y":2.4},{"s":1,"x":3000,"y":2.9},{"s":1,"x":3000,"y":3.3},{"s":1,"x":3000,"y":3.7},{"s":1,"x":3050,"y":1.2},{"s":1,"x":3050,"y":1.7},{"s":1,"x":3050,"y":2.2},{"s":1,"x":3050,"y":2.7},{"s":1,"x":3050,"y":3.1},{"s":1,"x":3050,"y":3.4},{"s":1,"x":3100,"y":1.4},{"s":1,"x":3100,"y":1.9},{"s":1,"x":3100,"y":2.4},{"s":1,"x":3100,"y":2.8},{"s":1,"x":3100,"y":3.1},{"s":1,"x":3150,"y":1.2},{"s":1,"x":3150,"y":1.7},{"s":1,"x":3150,"y":2.2},{"s":1,"x":3150,"y":2.6},{"s":1,"x":3150,"y":3.0},{"s":1,"x":3200,"y":1.4},{"s":1,"x":3200,"y":1.9},{"s":1,"x":3200,"y":2.4},{"s":1,"x":3200,"y":2.8},{"s":1,"x":3250,"y":1.2},{"s":1,"x":3250,"y":1.7},{"s":1,"x":3250,"y":2.2},{"s":1,"x":3250,"y":2.6},{"s":1,"x":3300,"y":1.4},{"s":1,"x":3300,"y":1.9},{"s":1,"x":3300,"y":2.4},{"s":1,"x":3300,"y":2.6},{"s":1,"x":3350,"y":1.2},{"s":1,"x":3350,"y":1.7},{"s":1,"x":3350,"y":2.2},{"s":1,"x":3350,"y":2.5},{"s":1,"x":3400,"y":1.4},{"s":1,"x":3400,"y":1.9},{"s":1,"x":3400,"y":2.4},{"s":1,"x":3450,"y":1.2},{"s":1,"x":3450,"y":1.7},{"s":1,"x":3450,"y":2.2},{"s":1,"x":3450,"y":2.4},{"s":1,"x":3500,"y":1.4},{"s":1,"x":3500,"y":1.9},{"s":1,"x":3500,"y":2.3},{"s":1,"x":3550,"y":1.2},{"s":1,"x":3550,"y":1.7},{"s":1,"x":3550,"y":2.1},{"s":1,"x":3550,"y":2.3},{"s":1,"x":3600,"y":1.4},{"s":1,"x":3600,"y":1.9},{"s":1,"x":3600,"y":2.3},{"s":1,"x":3620,"y":1.3},{"s":1,"x":3620,"y":1.8},{"s":1,"x":3620,"y":2.2},
{"s":2,"x":1,"y":0.32},{"s":2,"x":100,"y":0.32},{"s":2,"x":200,"y":0.32},{"s":2,"x":300,"y":0.32},{"s":2,"x":400,"y":0.32},{"s":2,"x":500,"y":0.32},{"s":2,"x":600,"y":0.32},{"s":2,"x":700,"y":0.32},{"s":2,"x":800,"y":0.32},{"s":2,"x":900,"y":0.32},{"s":2,"x":1000,"y":0.32},{"s":2,"x":1100,"y":0.32},{"s":2,"x":1200,"y":0.32},{"s":2,"x":1300,"y":0.32},{"s":2,"x":1400,"y":0.32},{"s":2,"x":1500,"y":0.32},{"s":2,"x":1600,"y":0.32},{"s":2,"x":1700,"y":0.32},{"s":2,"x":1800,"y":0.32},{"s":2,"x":1900,"y":0.32},{"s":2,"x":2000,"y":0.32},{"s":2,"x":2100,"y":0.32},{"s":2,"x":2200,"y":0.32},{"s":2,"x":2300,"y":0.32},{"s":2,"x":2400,"y":0.32},
{"s":2,"x":2500,"y":0.32},{"s":2,"x":2550,"y":0.38},{"s":2,"x":2600,"y":0.45},{"s":2,"x":2650,"y":0.5},{"s":2,"x":2650,"y":0.7},{"s":2,"x":2700,"y":0.55},{"s":2,"x":2700,"y":0.85},{"s":2,"x":2750,"y":0.65},{"s":2,"x":2750,"y":1.0},{"s":2,"x":2800,"y":0.5},{"s":2,"x":2800,"y":0.8},{"s":2,"x":2800,"y":1.1},{"s":2,"x":2850,"y":0.45},{"s":2,"x":2850,"y":0.85},{"s":2,"x":2850,"y":1.25},{"s":2,"x":2900,"y":0.5},{"s":2,"x":2900,"y":0.95},{"s":2,"x":2900,"y":1.35},{"s":2,"x":2950,"y":0.45},{"s":2,"x":2950,"y":0.9},{"s":2,"x":2950,"y":1.45},{"s":2,"x":3000,"y":0.6},{"s":2,"x":3000,"y":1.05},{"s":2,"x":3000,"y":1.55},{"s":2,"x":3050,"y":0.5},{"s":2,"x":3050,"y":0.95},{"s":2,"x":3050,"y":1.4},{"s":2,"x":3100,"y":0.7},{"s":2,"x":3100,"y":1.0},{"s":2,"x":3100,"y":1.3},{"s":2,"x":3150,"y":0.75},{"s":2,"x":3150,"y":1.0},{"s":2,"x":3150,"y":1.25},{"s":2,"x":3200,"y":0.75},{"s":2,"x":3200,"y":0.95},{"s":2,"x":3200,"y":1.15},{"s":2,"x":3250,"y":0.8},{"s":2,"x":3250,"y":1.0},{"s":2,"x":3250,"y":1.15},{"s":2,"x":3300,"y":0.75},{"s":2,"x":3300,"y":0.95},{"s":2,"x":3300,"y":1.15},{"s":2,"x":3350,"y":0.8},{"s":2,"x":3350,"y":1.0},{"s":2,"x":3350,"y":1.15},{"s":2,"x":3400,"y":0.75},{"s":2,"x":3400,"y":0.95},{"s":2,"x":3400,"y":1.15},{"s":2,"x":3450,"y":0.8},{"s":2,"x":3450,"y":1.0},{"s":2,"x":3450,"y":1.15},{"s":2,"x":3500,"y":0.75},{"s":2,"x":3500,"y":0.95},{"s":2,"x":3500,"y":1.15},{"s":2,"x":3550,"y":0.8},{"s":2,"x":3550,"y":1.0},{"s":2,"x":3550,"y":1.15},{"s":2,"x":3600,"y":0.75},{"s":2,"x":3600,"y":0.95},{"s":2,"x":3600,"y":1.15},{"s":2,"x":3620,"y":0.8},{"s":2,"x":3620,"y":1.05},
{"s":3,"x":1,"y":0.12},{"s":3,"x":50,"y":0.12},{"s":3,"x":100,"y":0.12},{"s":3,"x":150,"y":0.12},{"s":3,"x":200,"y":0.12},{"s":3,"x":250,"y":0.12},{"s":3,"x":300,"y":0.12},{"s":3,"x":350,"y":0.12},{"s":3,"x":400,"y":0.12},{"s":3,"x":450,"y":0.12},{"s":3,"x":500,"y":0.12},{"s":3,"x":550,"y":0.12},{"s":3,"x":600,"y":0.12},{"s":3,"x":650,"y":0.12},{"s":3,"x":700,"y":0.12},{"s":3,"x":750,"y":0.12},{"s":3,"x":800,"y":0.12},{"s":3,"x":850,"y":0.12},{"s":3,"x":900,"y":0.12},{"s":3,"x":950,"y":0.12},{"s":3,"x":1000,"y":0.12},{"s":3,"x":1050,"y":0.12},{"s":3,"x":1100,"y":0.12},{"s":3,"x":1150,"y":0.12},{"s":3,"x":1200,"y":0.12},{"s":3,"x":1250,"y":0.12},{"s":3,"x":1300,"y":0.12},{"s":3,"x":1350,"y":0.12},{"s":3,"x":1400,"y":0.12},{"s":3,"x":1450,"y":0.12},{"s":3,"x":1500,"y":0.12},{"s":3,"x":1550,"y":0.12},{"s":3,"x":1600,"y":0.12},{"s":3,"x":1650,"y":0.12},{"s":3,"x":1700,"y":0.12},{"s":3,"x":1750,"y":0.12},{"s":3,"x":1800,"y":0.12},{"s":3,"x":1850,"y":0.12},{"s":3,"x":1900,"y":0.12},{"s":3,"x":1950,"y":0.12},{"s":3,"x":2000,"y":0.12},{"s":3,"x":2050,"y":0.12},{"s":3,"x":2100,"y":0.12},{"s":3,"x":2150,"y":0.12},{"s":3,"x":2200,"y":0.12},{"s":3,"x":2250,"y":0.12},{"s":3,"x":2300,"y":0.12},{"s":3,"x":2350,"y":0.12},{"s":3,"x":2400,"y":0.12},{"s":3,"x":2450,"y":0.12},{"s":3,"x":2500,"y":0.12},{"s":3,"x":2550,"y":0.12},{"s":3,"x":2600,"y":0.12},{"s":3,"x":2650,"y":0.12},{"s":3,"x":2700,"y":0.12},{"s":3,"x":2750,"y":0.12},{"s":3,"x":2800,"y":0.12},{"s":3,"x":2850,"y":0.12},{"s":3,"x":2900,"y":0.12},{"s":3,"x":2950,"y":0.12},{"s":3,"x":3000,"y":0.12},{"s":3,"x":3050,"y":0.12},{"s":3,"x":3100,"y":0.12},{"s":3,"x":3150,"y":0.12},{"s":3,"x":3200,"y":0.12},{"s":3,"x":3250,"y":0.12},{"s":3,"x":3300,"y":0.12},{"s":3,"x":3350,"y":0.12},{"s":3,"x":3400,"y":0.12},{"s":3,"x":3450,"y":0.12},{"s":3,"x":3500,"y":0.12},{"s":3,"x":3550,"y":0.12},{"s":3,"x":3600,"y":0.12},{"s":3,"x":3620,"y":0.12},
{"s":3,"x":2550,"y":0.15},{"s":3,"x":2600,"y":0.18},{"s":3,"x":2650,"y":0.21},{"s":3,"x":2700,"y":0.25},{"s":3,"x":2750,"y":0.29},{"s":3,"x":2800,"y":0.34},{"s":3,"x":2850,"y":0.4},{"s":3,"x":2900,"y":0.46},{"s":3,"x":2950,"y":0.52},{"s":3,"x":3000,"y":0.56},{"s":3,"x":3050,"y":0.52},{"s":3,"x":3100,"y":0.47},{"s":3,"x":3150,"y":0.44},{"s":3,"x":3200,"y":0.43},{"s":3,"x":3250,"y":0.44},{"s":3,"x":3300,"y":0.45},{"s":3,"x":3350,"y":0.47},{"s":3,"x":3400,"y":0.49},{"s":3,"x":3450,"y":0.51},{"s":3,"x":3500,"y":0.54},{"s":3,"x":3550,"y":0.58},{"s":3,"x":3600,"y":0.61},{"s":3,"x":3620,"y":0.63},
{"s":3,"x":2850,"y":0.28},{"s":3,"x":2900,"y":0.3},{"s":3,"x":2950,"y":0.32},{"s":3,"x":3000,"y":0.33},{"s":3,"x":3050,"y":0.31},{"s":3,"x":3100,"y":0.3},{"s":3,"x":3150,"y":0.29},{"s":3,"x":3200,"y":0.28},{"s":3,"x":3250,"y":0.29},{"s":3,"x":3300,"y":0.29},{"s":3,"x":3350,"y":0.3},{"s":3,"x":3400,"y":0.31},{"s":3,"x":3450,"y":0.32},{"s":3,"x":3500,"y":0.33},{"s":3,"x":3550,"y":0.35},{"s":3,"x":3600,"y":0.37},
{"s":3,"x":2920,"y":0.7},{"s":3,"x":2950,"y":0.8},{"s":3,"x":2980,"y":0.9},{"s":3,"x":3000,"y":1.0},{"s":3,"x":3030,"y":0.85},{"s":3,"x":3060,"y":0.75},{"s":3,"x":3090,"y":0.65}
],
"d":[
{"s":0,"x":1,"y":0.4},{"s":0,"x":50,"y":0.4},{"s":0,"x":100,"y":0.4},{"s":0,"x":150,"y":0.4},{"s":0,"x":200,"y":0.4},{"s":0,"x":250,"y":0.4},{"s":0,"x":300,"y":0.4},{"s":0,"x":350,"y":0.4},{"s":0,"x":400,"y":0.4},{"s":0,"x":450,"y":0.4},{"s":0,"x":500,"y":0.4},{"s":0,"x":550,"y":0.4},{"s":0,"x":600,"y":0.4},{"s":0,"x":650,"y":0.4},{"s":0,"x":700,"y":0.4},{"s":0,"x":750,"y":0.4},{"s":0,"x":800,"y":0.4},{"s":0,"x":850,"y":0.4},{"s":0,"x":900,"y":0.4},{"s":0,"x":950,"y":0.4},{"s":0,"x":1000,"y":0.4},{"s":0,"x":1050,"y":0.4},{"s":0,"x":1100,"y":0.4},{"s":0,"x":1150,"y":0.4},{"s":0,"x":1200,"y":0.4},{"s":0,"x":1250,"y":0.4},{"s":0,"x":1300,"y":0.4},{"s":0,"x":1350,"y":0.4},{"s":0,"x":1400,"y":0.4},{"s":0,"x":1450,"y":0.4},{"s":0,"x":1500,"y":0.4},{"s":0,"x":1550,"y":0.4},{"s":0,"x":1600,"y":0.4},{"s":0,"x":1650,"y":0.4},{"s":0,"x":1700,"y":0.4},{"s":0,"x":1750,"y":0.4},{"s":0,"x":1800,"y":0.4},{"s":0,"x":1850,"y":0.4},{"s":0,"x":1900,"y":0.4},{"s":0,"x":1950,"y":0.4},{"s":0,"x":2000,"y":0.4},{"s":0,"x":2050,"y":0.4},{"s":0,"x":2100,"y":0.4},{"s":0,"x":2150,"y":0.4},{"s":0,"x":2200,"y":0.4},{"s":0,"x":2250,"y":0.4},{"s":0,"x":2300,"y":0.4},{"s":0,"x":2350,"y":0.4},{"s":0,"x":2400,"y":0.4},{"s":0,"x":2450,"y":0.4},{"s":0,"x":2500,"y":0.4},{"s":0,"x":2550,"y":0.4},{"s":0,"x":2600,"y":0.4},{"s":0,"x":2650,"y":0.4},{"s":0,"x":2700,"y":0.4},{"s":0,"x":2750,"y":0.4},{"s":0,"x":2800,"y":0.4},{"s":0,"x":2850,"y":0.4},{"s":0,"x":2900,"y":0.4},{"s":0,"x":2950,"y":0.4},{"s":0,"x":3000,"y":0.4},{"s":0,"x":3050,"y":0.4},{"s":0,"x":3100,"y":0.42},{"s":0,"x":3150,"y":0.45},
{"s":0,"x":3180,"y":0.6},{"s":0,"x":3210,"y":0.85},{"s":0,"x":3240,"y":1.2},{"s":0,"x":3260,"y":1.6},{"s":0,"x":3280,"y":2.2},{"s":0,"x":3300,"y":2.9},
{"s":0,"x":3230,"y":2.5},{"s":0,"x":3260,"y":3.0},{"s":0,"x":3260,"y":4.0},{"s":0,"x":3280,"y":3.6},{"s":0,"x":3280,"y":4.6},{"s":0,"x":3300,"y":4.2},{"s":0,"x":3300,"y":5.2},{"s":0,"x":3300,"y":6.6},{"s":0,"x":3320,"y":3.5},{"s":0,"x":3320,"y":4.8},{"s":0,"x":3320,"y":6.0},{"s":0,"x":3320,"y":7.0},{"s":0,"x":3340,"y":3.0},{"s":0,"x":3340,"y":4.2},{"s":0,"x":3340,"y":5.5},{"s":0,"x":3340,"y":6.8},{"s":0,"x":3340,"y":7.6},{"s":0,"x":3360,"y":3.8},{"s":0,"x":3360,"y":5.0},{"s":0,"x":3360,"y":6.2},{"s":0,"x":3360,"y":7.3},{"s":0,"x":3380,"y":3.2},{"s":0,"x":3380,"y":4.5},{"s":0,"x":3380,"y":5.8},
{"s":0,"x":3400,"y":3.5},{"s":0,"x":3400,"y":5.0},{"s":0,"x":3400,"y":6.5},{"s":0,"x":3400,"y":8.0},{"s":0,"x":3400,"y":9.5},{"s":0,"x":3400,"y":11.0},{"s":0,"x":3400,"y":12.4},
{"s":0,"x":3420,"y":4.2},{"s":0,"x":3420,"y":5.7},{"s":0,"x":3420,"y":7.2},{"s":0,"x":3420,"y":8.7},{"s":0,"x":3420,"y":10.2},{"s":0,"x":3420,"y":11.7},{"s":0,"x":3420,"y":13.0},
{"s":0,"x":3440,"y":3.8},{"s":0,"x":3440,"y":5.3},{"s":0,"x":3440,"y":6.8},{"s":0,"x":3440,"y":8.3},{"s":0,"x":3440,"y":9.8},{"s":0,"x":3440,"y":11.3},{"s":0,"x":3440,"y":12.8},{"s":0,"x":3440,"y":17.5},{"s":0,"x":3440,"y":20.3},
{"s":0,"x":3460,"y":4.5},{"s":0,"x":3460,"y":6.0},{"s":0,"x":3460,"y":7.5},{"s":0,"x":3460,"y":9.0},{"s":0,"x":3460,"y":10.5},{"s":0,"x":3460,"y":12.0},{"s":0,"x":3460,"y":13.5},{"s":0,"x":3460,"y":15.0},{"s":0,"x":3460,"y":17.0},{"s":0,"x":3460,"y":18.5},{"s":0,"x":3460,"y":20.0},{"s":0,"x":3460,"y":22.6},
{"s":0,"x":3480,"y":4.0},{"s":0,"x":3480,"y":5.5},{"s":0,"x":3480,"y":7.0},{"s":0,"x":3480,"y":8.5},{"s":0,"x":3480,"y":10.0},{"s":0,"x":3480,"y":11.5},{"s":0,"x":3480,"y":13.0},{"s":0,"x":3480,"y":14.5},{"s":0,"x":3480,"y":16.0},{"s":0,"x":3480,"y":19.0},{"s":0,"x":3480,"y":21.0},{"s":0,"x":3480,"y":23.0},
{"s":0,"x":3500,"y":5.0},{"s":0,"x":3500,"y":6.5},{"s":0,"x":3500,"y":8.0},{"s":0,"x":3500,"y":9.5},{"s":0,"x":3500,"y":11.0},{"s":0,"x":3500,"y":12.5},{"s":0,"x":3500,"y":14.0},{"s":0,"x":3500,"y":15.5},{"s":0,"x":3500,"y":17.0},{"s":0,"x":3500,"y":18.5},{"s":0,"x":3500,"y":20.0},{"s":0,"x":3500,"y":21.5},{"s":0,"x":3500,"y":22.8},
{"s":0,"x":3520,"y":4.5},{"s":0,"x":3520,"y":6.0},{"s":0,"x":3520,"y":7.5},{"s":0,"x":3520,"y":9.0},{"s":0,"x":3520,"y":10.5},{"s":0,"x":3520,"y":12.0},{"s":0,"x":3520,"y":13.5},{"s":0,"x":3520,"y":15.0},{"s":0,"x":3520,"y":16.5},{"s":0,"x":3520,"y":18.0},{"s":0,"x":3520,"y":19.5},{"s":0,"x":3520,"y":21.0},{"s":0,"x":3520,"y":23.5},
{"s":0,"x":3540,"y":5.5},{"s":0,"x":3540,"y":7.0},{"s":0,"x":3540,"y":8.5},{"s":0,"x":3540,"y":10.0},{"s":0,"x":3540,"y":11.5},{"s":0,"x":3540,"y":13.0},{"s":0,"x":3540,"y":14.5},{"s":0,"x":3540,"y":16.0},{"s":0,"x":3540,"y":17.5},{"s":0,"x":3540,"y":19.0},{"s":0,"x":3540,"y":20.5},{"s":0,"x":3540,"y":22.0},{"s":0,"x":3540,"y":23.0},
{"s":0,"x":3560,"y":5.0},{"s":0,"x":3560,"y":6.5},{"s":0,"x":3560,"y":8.0},{"s":0,"x":3560,"y":9.5},{"s":0,"x":3560,"y":11.0},{"s":0,"x":3560,"y":12.5},{"s":0,"x":3560,"y":14.0},{"s":0,"x":3560,"y":15.5},{"s":0,"x":3560,"y":17.0},{"s":0,"x":3560,"y":18.5},{"s":0,"x":3560,"y":20.0},{"s":0,"x":3560,"y":22.5},{"s":0,"x":3560,"y":24.0},
{"s":0,"x":3580,"y":6.0},{"s":0,"x":3580,"y":7.5},{"s":0,"x":3580,"y":9.0},{"s":0,"x":3580,"y":10.5},{"s":0,"x":3580,"y":12.0},{"s":0,"x":3580,"y":13.5},{"s":0,"x":3580,"y":15.0},{"s":0,"x":3580,"y":16.5},{"s":0,"x":3580,"y":18.0},{"s":0,"x":3580,"y":19.5},{"s":0,"x":3580,"y":21.0},{"s":0,"x":3580,"y":23.0},{"s":0,"x":3580,"y":25.5},{"s":0,"x":3580,"y":27.2},
{"s":0,"x":3600,"y":5.5},{"s":0,"x":3600,"y":7.0},{"s":0,"x":3600,"y":8.5},{"s":0,"x":3600,"y":10.0},{"s":0,"x":3600,"y":11.5},{"s":0,"x":3600,"y":13.0},{"s":0,"x":3600,"y":14.5},{"s":0,"x":3600,"y":16.0},{"s":0,"x":3600,"y":17.5},{"s":0,"x":3600,"y":19.0},{"s":0,"x":3600,"y":20.5},{"s":0,"x":3600,"y":22.0},{"s":0,"x":3600,"y":26.0},
{"s":0,"x":3620,"y":6.5},{"s":0,"x":3620,"y":8.0},{"s":0,"x":3620,"y":9.5},{"s":0,"x":3620,"y":11.0},{"s":0,"x":3620,"y":12.5},{"s":0,"x":3620,"y":14.0},{"s":0,"x":3620,"y":15.5},{"s":0,"x":3620,"y":17.0},{"s":0,"x":3620,"y":18.5},{"s":0,"x":3620,"y":20.0},
{"s":1,"x":1,"y":0.3},{"s":1,"x":100,"y":0.3},{"s":1,"x":200,"y":0.3},{"s":1,"x":300,"y":0.3},{"s":1,"x":400,"y":0.3},{"s":1,"x":500,"y":0.3},{"s":1,"x":600,"y":0.3},{"s":1,"x":700,"y":0.3},{"s":1,"x":800,"y":0.3},{"s":1,"x":900,"y":0.3},{"s":1,"x":1000,"y":0.3},{"s":1,"x":1100,"y":0.3},{"s":1,"x":1200,"y":0.3},{"s":1,"x":1300,"y":0.3},{"s":1,"x":1400,"y":0.3},{"s":1,"x":1500,"y":0.3},{"s":1,"x":1600,"y":0.3},{"s":1,"x":1700,"y":0.3},{"s":1,"x":1800,"y":0.3},{"s":1,"x":1900,"y":0.3},{"s":1,"x":2000,"y":0.3},{"s":1,"x":2100,"y":0.3},{"s":1,"x":2200,"y":0.3},{"s":1,"x":2300,"y":0.3},{"s":1,"x":2400,"y":0.3},{"s":1,"x":2500,"y":0.3},{"s":1,"x":2600,"y":0.3},{"s":1,"x":2700,"y":0.3},{"s":1,"x":2800,"y":0.3},{"s":1,"x":2900,"y":0.3},{"s":1,"x":3000,"y":0.3},{"s":1,"x":3100,"y":0.3},{"s":1,"x":3200,"y":0.32},{"s":1,"x":3300,"y":0.4},
{"s":1,"x":3350,"y":0.6},{"s":1,"x":3350,"y":1.0},{"s":1,"x":3380,"y":0.8},{"s":1,"x":3380,"y":1.4},{"s":1,"x":3400,"y":1.0},{"s":1,"x":3400,"y":1.6},{"s":1,"x":3400,"y":2.2},{"s":1,"x":3420,"y":1.2},{"s":1,"x":3420,"y":1.8},{"s":1,"x":3420,"y":2.6},{"s":1,"x":3420,"y":3.3},{"s":1,"x":3440,"y":1.5},{"s":1,"x":3440,"y":2.3},{"s":1,"x":3440,"y":3.1},{"s":1,"x":3440,"y":3.9},{"s":1,"x":3460,"y":1.8},{"s":1,"x":3460,"y":2.6},{"s":1,"x":3460,"y":3.4},{"s":1,"x":3460,"y":4.2},{"s":1,"x":3460,"y":4.8},{"s":1,"x":3480,"y":2.0},{"s":1,"x":3480,"y":2.8},{"s":1,"x":3480,"y":3.6},{"s":1,"x":3480,"y":4.4},{"s":1,"x":3480,"y":5.2},{"s":1,"x":3500,"y":2.2},{"s":1,"x":3500,"y":3.0},{"s":1,"x":3500,"y":3.8},{"s":1,"x":3500,"y":4.6},{"s":1,"x":3500,"y":5.4},{"s":1,"x":3500,"y":5.8},{"s":1,"x":3520,"y":2.4},{"s":1,"x":3520,"y":3.2},{"s":1,"x":3520,"y":4.0},{"s":1,"x":3520,"y":4.8},{"s":1,"x":3520,"y":5.6},{"s":1,"x":3520,"y":6.2},{"s":1,"x":3540,"y":2.5},{"s":1,"x":3540,"y":3.3},{"s":1,"x":3540,"y":4.1},{"s":1,"x":3540,"y":4.9},{"s":1,"x":3540,"y":5.7},{"s":1,"x":3540,"y":6.5},{"s":1,"x":3560,"y":2.6},{"s":1,"x":3560,"y":3.4},{"s":1,"x":3560,"y":4.2},{"s":1,"x":3560,"y":5.0},{"s":1,"x":3560,"y":5.8},{"s":1,"x":3560,"y":6.6},{"s":1,"x":3560,"y":7.0},{"s":1,"x":3580,"y":2.7},{"s":1,"x":3580,"y":3.5},{"s":1,"x":3580,"y":4.3},{"s":1,"x":3580,"y":5.1},{"s":1,"x":3580,"y":5.9},{"s":1,"x":3580,"y":6.7},{"s":1,"x":3580,"y":7.3},{"s":1,"x":3600,"y":2.8},{"s":1,"x":3600,"y":3.6},{"s":1,"x":3600,"y":4.4},{"s":1,"x":3600,"y":5.2},{"s":1,"x":3600,"y":6.0},{"s":1,"x":3600,"y":6.8},{"s":1,"x":3600,"y":7.4},{"s":1,"x":3620,"y":3.0},{"s":1,"x":3620,"y":3.8},{"s":1,"x":3620,"y":4.6},{"s":1,"x":3620,"y":5.4},{"s":1,"x":3620,"y":6.2},{"s":1,"x":3620,"y":7.0},
{"s":2,"x":1,"y":0.25},{"s":2,"x":100,"y":0.25},{"s":2,"x":200,"y":0.25},{"s":2,"x":300,"y":0.25},{"s":2,"x":400,"y":0.25},{"s":2,"x":500,"y":0.25},{"s":2,"x":600,"y":0.25},{"s":2,"x":700,"y":0.25},{"s":2,"x":800,"y":0.25},{"s":2,"x":900,"y":0.25},{"s":2,"x":1000,"y":0.25},{"s":2,"x":1100,"y":0.25},{"s":2,"x":1200,"y":0.25},{"s":2,"x":1300,"y":0.25},{"s":2,"x":1400,"y":0.25},{"s":2,"x":1500,"y":0.25},{"s":2,"x":1600,"y":0.25},{"s":2,"x":1700,"y":0.25},{"s":2,"x":1800,"y":0.25},{"s":2,"x":1900,"y":0.25},{"s":2,"x":2000,"y":0.25},{"s":2,"x":2100,"y":0.25},{"s":2,"x":2200,"y":0.25},{"s":2,"x":2300,"y":0.25},{"s":2,"x":2400,"y":0.25},{"s":2,"x":2500,"y":0.25},{"s":2,"x":2600,"y":0.25},{"s":2,"x":2700,"y":0.25},{"s":2,"x":2800,"y":0.25},{"s":2,"x":2900,"y":0.25},{"s":2,"x":3000,"y":0.25},{"s":2,"x":3100,"y":0.25},{"s":2,"x":3200,"y":0.26},{"s":2,"x":3300,"y":0.3},{"s":2,"x":3350,"y":0.38},
{"s":2,"x":3380,"y":0.5},{"s":2,"x":3400,"y":0.6},{"s":2,"x":3400,"y":0.9},{"s":2,"x":3420,"y":0.8},{"s":2,"x":3420,"y":1.2},{"s":2,"x":3440,"y":1.0},{"s":2,"x":3440,"y":1.5},{"s":2,"x":3460,"y":1.1},{"s":2,"x":3460,"y":1.7},{"s":2,"x":3460,"y":2.0},{"s":2,"x":3480,"y":1.2},{"s":2,"x":3480,"y":1.8},{"s":2,"x":3480,"y":2.3},{"s":2,"x":3500,"y":1.3},{"s":2,"x":3500,"y":1.9},{"s":2,"x":3500,"y":2.5},{"s":2,"x":3520,"y":1.4},{"s":2,"x":3520,"y":2.0},{"s":2,"x":3520,"y":2.6},{"s":2,"x":3540,"y":1.4},{"s":2,"x":3540,"y":2.1},{"s":2,"x":3540,"y":2.8},{"s":2,"x":3560,"y":1.5},{"s":2,"x":3560,"y":2.2},{"s":2,"x":3560,"y":2.9},{"s":2,"x":3580,"y":1.5},{"s":2,"x":3580,"y":2.3},{"s":2,"x":3580,"y":3.0},{"s":2,"x":3600,"y":1.6},{"s":2,"x":3600,"y":2.4},{"s":2,"x":3600,"y":3.1},{"s":2,"x":3620,"y":1.7},{"s":2,"x":3620,"y":2.5},{"s":2,"x":3620,"y":3.2},
{"s":3,"x":1,"y":0.15},{"s":3,"x":50,"y":0.15},{"s":3,"x":100,"y":0.15},{"s":3,"x":150,"y":0.15},{"s":3,"x":200,"y":0.15},{"s":3,"x":250,"y":0.15},{"s":3,"x":300,"y":0.15},{"s":3,"x":350,"y":0.15},{"s":3,"x":400,"y":0.15},{"s":3,"x":450,"y":0.15},{"s":3,"x":500,"y":0.15},{"s":3,"x":550,"y":0.15},{"s":3,"x":600,"y":0.15},{"s":3,"x":650,"y":0.15},{"s":3,"x":700,"y":0.15},{"s":3,"x":750,"y":0.15},{"s":3,"x":800,"y":0.15},{"s":3,"x":850,"y":0.15},{"s":3,"x":900,"y":0.15},{"s":3,"x":950,"y":0.15},{"s":3,"x":1000,"y":0.15},{"s":3,"x":1050,"y":0.15},{"s":3,"x":1100,"y":0.15},{"s":3,"x":1150,"y":0.15},{"s":3,"x":1200,"y":0.15},{"s":3,"x":1250,"y":0.15},{"s":3,"x":1300,"y":0.15},{"s":3,"x":1350,"y":0.15},{"s":3,"x":1400,"y":0.15},{"s":3,"x":1450,"y":0.15},{"s":3,"x":1500,"y":0.15},{"s":3,"x":1550,"y":0.15},{"s":3,"x":1600,"y":0.15},{"s":3,"x":1650,"y":0.15},{"s":3,"x":1700,"y":0.15},{"s":3,"x":1750,"y":0.15},{"s":3,"x":1800,"y":0.15},{"s":3,"x":1850,"y":0.15},{"s":3,"x":1900,"y":0.15},{"s":3,"x":1950,"y":0.15},{"s":3,"x":2000,"y":0.15},{"s":3,"x":2050,"y":0.15},{"s":3,"x":2100,"y":0.15},{"s":3,"x":2150,"y":0.15},{"s":3,"x":2200,"y":0.15},{"s":3,"x":2250,"y":0.15},{"s":3,"x":2300,"y":0.15},{"s":3,"x":2350,"y":0.15},{"s":3,"x":2400,"y":0.15},{"s":3,"x":2450,"y":0.15},{"s":3,"x":2500,"y":0.15},{"s":3,"x":2550,"y":0.15},{"s":3,"x":2600,"y":0.15},{"s":3,"x":2650,"y":0.15},{"s":3,"x":2700,"y":0.15},{"s":3,"x":2750,"y":0.15},{"s":3,"x":2800,"y":0.15},{"s":3,"x":2850,"y":0.15},{"s":3,"x":2900,"y":0.15},{"s":3,"x":2950,"y":0.15},{"s":3,"x":3000,"y":0.15},{"s":3,"x":3050,"y":0.15},{"s":3,"x":3100,"y":0.15},{"s":3,"x":3150,"y":0.15},{"s":3,"x":3200,"y":0.15},{"s":3,"x":3250,"y":0.15},{"s":3,"x":3300,"y":0.15},{"s":3,"x":3350,"y":0.17},{"s":3,"x":3400,"y":0.2},
{"s":3,"x":3420,"y":0.4},{"s":3,"x":3440,"y":0.5},{"s":3,"x":3440,"y":0.25},{"s":3,"x":3460,"y":0.6},{"s":3,"x":3460,"y":0.3},{"s":3,"x":3480,"y":0.75},{"s":3,"x":3480,"y":0.4},{"s":3,"x":3480,"y":0.1},{"s":3,"x":3500,"y":0.9},{"s":3,"x":3500,"y":0.5},{"s":3,"x":3500,"y":0.15},{"s":3,"x":3520,"y":1.1},{"s":3,"x":3520,"y":0.7},{"s":3,"x":3520,"y":0.3},{"s":3,"x":3540,"y":1.3},{"s":3,"x":3540,"y":0.9},{"s":3,"x":3540,"y":0.5},{"s":3,"x":3540,"y":0.15},{"s":3,"x":3560,"y":1.5},{"s":3,"x":3560,"y":1.1},{"s":3,"x":3560,"y":0.7},{"s":3,"x":3560,"y":0.3},{"s":3,"x":3580,"y":1.7},{"s":3,"x":3580,"y":1.3},{"s":3,"x":3580,"y":0.9},{"s":3,"x":3580,"y":0.5},{"s":3,"x":3580,"y":0.15},{"s":3,"x":3600,"y":1.9},{"s":3,"x":3600,"y":1.5},{"s":3,"x":3600,"y":1.1},{"s":3,"x":3600,"y":0.7},{"s":3,"x":3600,"y":0.3},{"s":3,"x":3620,"y":2.1},{"s":3,"x":3620,"y":1.7},{"s":3,"x":3620,"y":1.3},{"s":3,"x":3620,"y":0.9},{"s":3,"x":3620,"y":0.5},{"s":3,"x":3620,"y":0.15}
]
},
"columns":2,
"spacing":{"row":112,"column":113},
"bounds":"flush",
"concat":[
{"width":457,"height":334,"layer":[
{"data":{"name":"a"},"mark":{"type":"point","strokeWidth":1.5,"opacity":1},"encoding":{
"x":{"field":"x","type":"quantitative","scale":{"domain":[1,4000],"nice":false,"zero":false},"axis":{"values":[1,1000,2000,3000,4000],"format":"d","title":"剖分网格","titlePadding":14}},
"y":{"field":"y","type":"quantitative","scale":{"domain":[0,20],"nice":false,"zero":false},"axis":{"values":[0,4,8,12,16,20],"title":"能量/10⁶ μV²","titlePadding":24,"titleY":133}},
"stroke":{"field":"s","type":"nominal","scale":{"domain":[0,1,2,3],"range":["#e8432d","#c93aa6","#3dab4b","#283593"]},"legend":{"orient":"none","legendX":221,"legendY":170,"title":"电导率/S·m⁻¹","symbolOffset":16,"labelOffset":12,"labelExpr":"['0.1400','0.2800','0.4200','0.5600'][datum.value]"}},
"fill":{"field":"s","type":"nominal","scale":{"domain":[0,1,2,3],"range":["transparent","transparent","transparent","#283593"]}},
"shape":{"field":"s","type":"nominal","scale":{"domain":[0,1,2,3],"range":["circle","square","M-1,-1L1,1M-1,1L1,-1","circle"]}},
"size":{"field":"s","type":"nominal","scale":{"type":"ordinal","domain":[0,1,2,3],"range":[100,60,55,12]}}}},
{"data":{"values":[{"x":3842,"x2":3842,"y":18.62,"y2":4.55},{"x":3792,"x2":3842,"y":18.62,"y2":18.62},{"x":3792,"x2":3842,"y":4.55,"y2":4.55},{"x":3842,"x2":3842,"y":4.25,"y2":2.46},{"x":3792,"x2":3842,"y":4.25,"y2":4.25},{"x":3792,"x2":3842,"y":2.46,"y2":2.46},{"x":3842,"x2":3842,"y":2.28,"y2":0.66},{"x":3792,"x2":3842,"y":2.28,"y2":2.28},{"x":3792,"x2":3842,"y":0.66,"y2":0.66}]},"mark":{"type":"rule","color":"#1a1a1a","strokeWidth":1.4},"encoding":{"x":{"field":"x","type":"quantitative"},"x2":{"field":"x2"},"y":{"field":"y","type":"quantitative"},"y2":{"field":"y2"}}},
{"data":{"values":[{"x":3921,"y":11.56},{"x":3921,"y":3.47},{"x":3921,"y":1.5}]},"mark":{"type":"text","text":"*","font":"DejaVu Serif","fontSize":18,"fontWeight":"bold","baseline":"alphabetic","dy":9,"color":"#1a1a1a"},"encoding":{"x":{"field":"x","type":"quantitative"},"y":{"field":"y","type":"quantitative"}}},
{"data":{"values":[{"x":1742,"y":17.66,"t":"偏心4 cm/各向同性"}]},"mark":{"type":"text","font":"DejaVu Serif, Noto Sans CJK SC","fontSize":17,"fontWeight":"bold","baseline":"middle","color":"#222"},"encoding":{"x":{"field":"x","type":"quantitative"},"y":{"field":"y","type":"quantitative"},"text":{"field":"t"}}}
]},
{"width":457,"height":334,"layer":[
{"data":{"name":"b"},"mark":{"type":"point","strokeWidth":1.5,"opacity":1},"encoding":{
"x":{"field":"x","type":"quantitative","scale":{"domain":[1,4000],"nice":false,"zero":false},"axis":{"values":[1,1000,2000,3000,4000],"format":"d","title":"剖分网格","titlePadding":14}},
"y":{"field":"y","type":"quantitative","scale":{"domain":[0,12],"nice":false,"zero":false},"axis":{"values":[0,2,4,6,8,10,12],"title":"能量/10⁸ μV²","titlePadding":24,"titleY":133}},
"stroke":{"field":"s","type":"nominal","scale":{"domain":[0,1,2,3],"range":["#e8432d","#c93aa6","#3dab4b","#283593"]},"legend":{"orient":"none","legendX":231,"legendY":170,"title":"电导率/S·m⁻¹","symbolOffset":38,"labelOffset":16,"labelExpr":"['0.1400','0.2800','0.4200','0.5600'][datum.value]"}},
"fill":{"field":"s","type":"nominal","scale":{"domain":[0,1,2,3],"range":["transparent","transparent","transparent","#283593"]}},
"shape":{"field":"s","type":"nominal","scale":{"domain":[0,1,2,3],"range":["circle","square","M-1,-1L1,1M-1,1L1,-1","circle"]}},
"size":{"field":"s","type":"nominal","scale":{"type":"ordinal","domain":[0,1,2,3],"range":[100,60,55,12]}}}},
{"data":{"values":[{"x":3763,"x2":3763,"y":10.96,"y2":3.02},{"x":3713,"x2":3763,"y":10.96,"y2":10.96},{"x":3713,"x2":3763,"y":3.02,"y2":3.02},{"x":3763,"x2":3763,"y":2.87,"y2":1.26},{"x":3713,"x2":3763,"y":2.87,"y2":2.87},{"x":3713,"x2":3763,"y":1.26,"y2":1.26},{"x":3763,"x2":3763,"y":1.11,"y2":0.57},{"x":3713,"x2":3763,"y":1.11,"y2":1.11},{"x":3713,"x2":3763,"y":0.57,"y2":0.57}]},"mark":{"type":"rule","color":"#1a1a1a","strokeWidth":1.4},"encoding":{"x":{"field":"x","type":"quantitative"},"x2":{"field":"x2"},"y":{"field":"y","type":"quantitative"},"y2":{"field":"y2"}}},
{"data":{"values":[{"x":3842,"y":7.04},{"x":3842,"y":2.01},{"x":3842,"y":0.83}]},"mark":{"type":"text","text":"*","font":"DejaVu Serif","fontSize":18,"fontWeight":"bold","baseline":"alphabetic","dy":9,"color":"#1a1a1a"},"encoding":{"x":{"field":"x","type":"quantitative"},"y":{"field":"y","type":"quantitative"}}},
{"data":{"values":[{"x":1847,"y":10.64,"t":"偏心8 cm/各向同性"}]},"mark":{"type":"text","font":"DejaVu Serif, Noto Sans CJK SC","fontSize":17,"fontWeight":"bold","baseline":"middle","color":"#222"},"encoding":{"x":{"field":"x","type":"quantitative"},"y":{"field":"y","type":"quantitative"},"text":{"field":"t"}}}
]},
{"width":457,"height":334,"layer":[
{"data":{"name":"c"},"mark":{"type":"point","strokeWidth":1.5,"opacity":1},"encoding":{
"x":{"field":"x","type":"quantitative","scale":{"domain":[1,4000],"nice":false,"zero":false},"axis":{"values":[1,1000,2000,3000,4000],"format":"d","title":"剖分网格","titlePadding":23}},
"y":{"field":"y","type":"quantitative","scale":{"domain":[0,14],"nice":false,"zero":false},"axis":{"values":[0,2,4,6,8,10,12,14],"title":"能量/10⁷ μV²","titlePadding":24}},
"stroke":{"field":"s","type":"nominal","scale":{"domain":[0,1,2,3],"range":["#e8432d","#c93aa6","#3dab4b","#283593"]},"legend":{"orient":"none","legendX":141,"legendY":157,"title":"Z轴电导率/S·m⁻¹","symbolOffset":36,"labelOffset":19,"labelExpr":"['0.4427','0.8854','1.3281','1.7708'][datum.value]"}},
"fill":{"field":"s","type":"nominal","scale":{"domain":[0,1,2,3],"range":["transparent","transparent","transparent","#283593"]}},
"shape":{"field":"s","type":"nominal","scale":{"domain":[0,1,2,3],"range":["circle","square","M-1,-1L1,1M-1,1L1,-1","circle"]}},
"size":{"field":"s","type":"nominal","scale":{"type":"ordinal","domain":[0,1,2,3],"range":[100,60,55,12]}}}},
{"data":{"values":[{"x":3825,"x2":3825,"y":13.7,"y2":2.61},{"x":3775,"x2":3825,"y":13.7,"y2":13.7},{"x":3775,"x2":3825,"y":2.61,"y2":2.61},{"x":3825,"x2":3825,"y":2.1,"y2":1.18},{"x":3775,"x2":3825,"y":2.1,"y2":2.1},{"x":3775,"x2":3825,"y":1.18,"y2":1.18},{"x":3825,"x2":3825,"y":0.88,"y2":0.42},{"x":3775,"x2":3825,"y":0.88,"y2":0.88},{"x":3775,"x2":3825,"y":0.42,"y2":0.42}]},"mark":{"type":"rule","color":"#1a1a1a","strokeWidth":1.4},"encoding":{"x":{"field":"x","type":"quantitative"},"x2":{"field":"x2"},"y":{"field":"y","type":"quantitative"},"y2":{"field":"y2"}}},
{"data":{"values":[{"x":3900,"y":8.87},{"x":3900,"y":1.64},{"x":3900,"y":0.67}]},"mark":{"type":"text","text":"*","font":"DejaVu Serif","fontSize":18,"fontWeight":"bold","baseline":"alphabetic","dy":9,"color":"#1a1a1a"},"encoding":{"x":{"field":"x","type":"quantitative"},"y":{"field":"y","type":"quantitative"}}},
{"data":{"values":[{"x":1742,"y":12.0,"t":"偏心4 cm/各向异性"}]},"mark":{"type":"text","font":"DejaVu Serif, Noto Sans CJK SC","fontSize":17,"fontWeight":"bold","baseline":"middle","color":"#222"},"encoding":{"x":{"field":"x","type":"quantitative"},"y":{"field":"y","type":"quantitative"},"text":{"field":"t"}}}
]},
{"width":457,"height":334,"layer":[
{"data":{"name":"d"},"mark":{"type":"point","strokeWidth":1.5,"opacity":1},"encoding":{
"x":{"field":"x","type":"quantitative","scale":{"domain":[1,4000],"nice":false,"zero":false},"axis":{"values":[1,1000,2000,3000,4000],"format":"d","title":"剖分网格","titlePadding":23}},
"y":{"field":"y","type":"quantitative","scale":{"domain":[0,30],"nice":false,"zero":false},"axis":{"values":[0,5,10,15,20,25,30],"title":"能量/10⁸ μV²","titlePadding":24}},
"stroke":{"field":"s","type":"nominal","scale":{"domain":[0,1,2,3],"range":["#e8432d","#c93aa6","#3dab4b","#283593"]},"legend":{"orient":"none","legendX":170,"legendY":157,"title":"Z轴电导率/S·m⁻¹","symbolOffset":39,"labelOffset":12,"labelExpr":"['0.4427','0.8854','1.3281','1.7708'][datum.value]"}},
"fill":{"field":"s","type":"nominal","scale":{"domain":[0,1,2,3],"range":["transparent","transparent","transparent","#283593"]}},
"shape":{"field":"s","type":"nominal","scale":{"domain":[0,1,2,3],"range":["circle","square","M-1,-1L1,1M-1,1L1,-1","circle"]}},
"size":{"field":"s","type":"nominal","scale":{"type":"ordinal","domain":[0,1,2,3],"range":[100,60,55,12]}}}},
{"data":{"values":[{"x":3763,"x2":3763,"y":28.0,"y2":7.84},{"x":3713,"x2":3763,"y":28.0,"y2":28.0},{"x":3713,"x2":3763,"y":7.84,"y2":7.84},{"x":3763,"x2":3763,"y":7.3,"y2":3.6},{"x":3713,"x2":3763,"y":7.3,"y2":7.3},{"x":3713,"x2":3763,"y":3.6,"y2":3.6},{"x":3763,"x2":3763,"y":3.15,"y2":1.62},{"x":3713,"x2":3763,"y":3.15,"y2":3.15},{"x":3713,"x2":3763,"y":1.62,"y2":1.62}]},"mark":{"type":"rule","color":"#1a1a1a","strokeWidth":1.4},"encoding":{"x":{"field":"x","type":"quantitative"},"x2":{"field":"x2"},"y":{"field":"y","type":"quantitative"},"y2":{"field":"y2"}}},
{"data":{"values":[{"x":3842,"y":18.3},{"x":3842,"y":5.4},{"x":3842,"y":2.25}]},"mark":{"type":"text","text":"*","font":"DejaVu Serif","fontSize":18,"fontWeight":"bold","baseline":"alphabetic","dy":9,"color":"#1a1a1a"},"encoding":{"x":{"field":"x","type":"quantitative"},"y":{"field":"y","type":"quantitative"}}},
{"data":{"values":[{"x":1829,"y":25.8,"t":"偏心8 cm/各向异性"},{"x":-516,"y":-4.5,"t":"(a)"}]},"mark":{"type":"text","font":"DejaVu Serif, Noto Sans CJK SC","fontSize":17,"fontWeight":"bold","baseline":"middle","color":"#222"},"encoding":{"x":{"field":"x","type":"quantitative"},"y":{"field":"y","type":"quantitative"},"text":{"field":"t"}}}
]}
],
"resolve":{"scale":{"x":"independent","y":"independent","stroke":"independent","fill":"independent","shape":"independent","size":"independent"},"legend":{"stroke":"independent","fill":"independent","shape":"independent","size":"independent"}}
}
